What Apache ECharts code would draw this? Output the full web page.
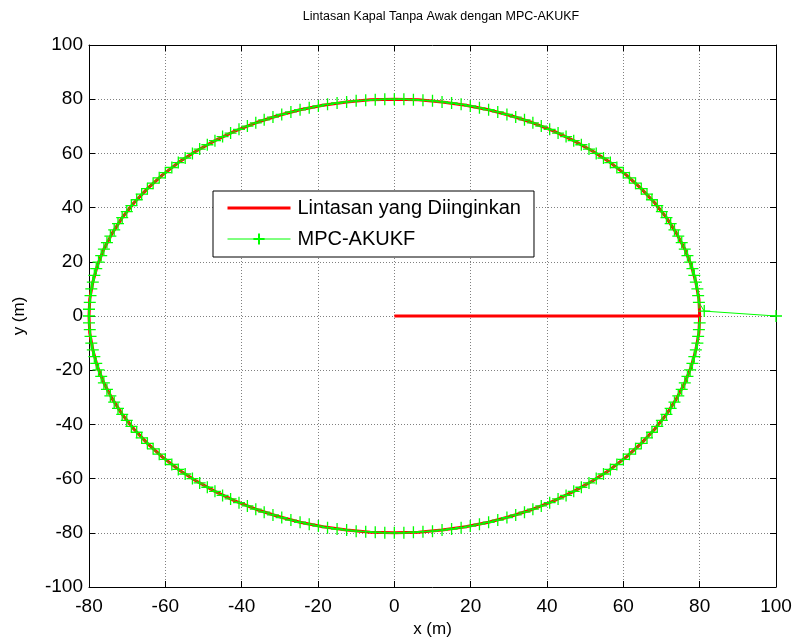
<!DOCTYPE html>
<html>
<head>
<meta charset="utf-8">
<script src="https://cdn.jsdelivr.net/npm/echarts@6/dist/echarts.min.js"></script>
<style>
  html, body { margin: 0; padding: 0; background: #ffffff; }
  #chart { width: 795px; height: 644px; }
</style>
</head>
<body>
<div id="chart"></div>
<script>
// Axis ranges and tick labels
const xTicks = [-80, -60, -40, -20, 0, 20, 40, 60, 80, 100];
const yTicks = [-100, -80, -60, -40, -20, 0, 20, 40, 60, 80, 100];

const seriesNames = ['Lintasan yang Diinginkan', 'MPC-AKUKF'];

// Desired path: straight run out to the circle, then one lap of radius 80 (x, y in metres)
const desiredPath = [
  [0, 0], [80, 0],
  [79.8, 6.3], [79.0, 12.5], [77.8, 18.7], [76.1, 24.7], [73.9, 30.6], [71.3, 36.3], [68.2, 41.8], [64.7, 47.0], [60.8, 52.0], [56.6, 56.6],
  [52.0, 60.8], [47.0, 64.7], [41.8, 68.2], [36.3, 71.3], [30.6, 73.9], [24.7, 76.1], [18.7, 77.8], [12.5, 79.0], [6.3, 79.8], [0, 80],
  [-6.3, 79.8], [-12.5, 79.0], [-18.7, 77.8], [-24.7, 76.1], [-30.6, 73.9], [-36.3, 71.3], [-41.8, 68.2], [-47.0, 64.7], [-52.0, 60.8], [-56.6, 56.6],
  [-60.8, 52.0], [-64.7, 47.0], [-68.2, 41.8], [-71.3, 36.3], [-73.9, 30.6], [-76.1, 24.7], [-77.8, 18.7], [-79.0, 12.5], [-79.8, 6.3], [-80, 0],
  [-79.8, -6.3], [-79.0, -12.5], [-77.8, -18.7], [-76.1, -24.7], [-73.9, -30.6], [-71.3, -36.3], [-68.2, -41.8], [-64.7, -47.0], [-60.8, -52.0], [-56.6, -56.6],
  [-52.0, -60.8], [-47.0, -64.7], [-41.8, -68.2], [-36.3, -71.3], [-30.6, -73.9], [-24.7, -76.1], [-18.7, -77.8], [-12.5, -79.0], [-6.3, -79.8], [0, -80],
  [6.3, -79.8], [12.5, -79.0], [18.7, -77.8], [24.7, -76.1], [30.6, -73.9], [36.3, -71.3], [41.8, -68.2], [47.0, -64.7], [52.0, -60.8], [56.6, -56.6],
  [60.8, -52.0], [64.7, -47.0], [68.2, -41.8], [71.3, -36.3], [73.9, -30.6], [76.1, -24.7], [77.8, -18.7], [79.0, -12.5], [79.8, -6.3], [80, 0]
];

// Vessel track estimated by MPC-AKUKF, starting at (100, 0)
const trackedPath = [
  [100, 0], [81.2, 1.8],
  [79.8, 5.0], [79.6, 7.5], [79.4, 10.0], [79.0, 12.5], [78.6, 15.0], [78.1, 17.5], [77.5, 19.9], [76.8, 22.3], [76.1, 24.7], [75.3, 27.1],
  [74.4, 29.5], [73.4, 31.8], [72.4, 34.1], [71.3, 36.3], [70.1, 38.5], [68.9, 40.7], [67.5, 42.9], [66.2, 45.0], [64.7, 47.0], [63.2, 49.0],
  [61.6, 51.0], [60.0, 52.9], [58.3, 54.8], [56.6, 56.6], [54.8, 58.3], [52.9, 60.0], [51.0, 61.6], [49.0, 63.2], [47.0, 64.7], [45.0, 66.2],
  [42.9, 67.5], [40.7, 68.9], [38.5, 70.1], [36.3, 71.3], [34.1, 72.4], [31.8, 73.4], [29.5, 74.4], [27.1, 75.3], [24.7, 76.1], [22.3, 76.8],
  [19.9, 77.5], [17.5, 78.1], [15.0, 78.6], [12.5, 79.0], [10.0, 79.4], [7.5, 79.6], [5.0, 79.8], [2.5, 80.0], [0, 80.0],
  [-2.5, 80.0], [-5.0, 79.8], [-7.5, 79.6], [-10.0, 79.4], [-12.5, 79.0], [-15.0, 78.6], [-17.5, 78.1], [-19.9, 77.5], [-22.3, 76.8], [-24.7, 76.1],
  [-27.1, 75.3], [-29.5, 74.4], [-31.8, 73.4], [-34.1, 72.4], [-36.3, 71.3], [-38.5, 70.1], [-40.7, 68.9], [-42.9, 67.5], [-45.0, 66.2], [-47.0, 64.7],
  [-49.0, 63.2], [-51.0, 61.6], [-52.9, 60.0], [-54.8, 58.3], [-56.6, 56.6], [-58.3, 54.8], [-60.0, 52.9], [-61.6, 51.0], [-63.2, 49.0], [-64.7, 47.0],
  [-66.2, 45.0], [-67.5, 42.9], [-68.9, 40.7], [-70.1, 38.5], [-71.3, 36.3], [-72.4, 34.1], [-73.4, 31.8], [-74.4, 29.5], [-75.3, 27.1], [-76.1, 24.7],
  [-76.8, 22.3], [-77.5, 19.9], [-78.1, 17.5], [-78.6, 15.0], [-79.0, 12.5], [-79.4, 10.0], [-79.6, 7.5], [-79.8, 5.0], [-80.0, 2.5], [-80.0, 0],
  [-80.0, -2.5], [-79.8, -5.0], [-79.6, -7.5], [-79.4, -10.0], [-79.0, -12.5], [-78.6, -15.0], [-78.1, -17.5], [-77.5, -19.9], [-76.8, -22.3], [-76.1, -24.7],
  [-75.3, -27.1], [-74.4, -29.5], [-73.4, -31.8], [-72.4, -34.1], [-71.3, -36.3], [-70.1, -38.5], [-68.9, -40.7], [-67.5, -42.9], [-66.2, -45.0], [-64.7, -47.0],
  [-63.2, -49.0], [-61.6, -51.0], [-60.0, -52.9], [-58.3, -54.8], [-56.6, -56.6], [-54.8, -58.3], [-52.9, -60.0], [-51.0, -61.6], [-49.0, -63.2], [-47.0, -64.7],
  [-45.0, -66.2], [-42.9, -67.5], [-40.7, -68.9], [-38.5, -70.1], [-36.3, -71.3], [-34.1, -72.4], [-31.8, -73.4], [-29.5, -74.4], [-27.1, -75.3], [-24.7, -76.1],
  [-22.3, -76.8], [-19.9, -77.5], [-17.5, -78.1], [-15.0, -78.6], [-12.5, -79.0], [-10.0, -79.4], [-7.5, -79.6], [-5.0, -79.8], [-2.5, -80.0], [0, -80.0],
  [2.5, -80.0], [5.0, -79.8], [7.5, -79.6], [10.0, -79.4], [12.5, -79.0], [15.0, -78.6], [17.5, -78.1], [19.9, -77.5], [22.3, -76.8], [24.7, -76.1],
  [27.1, -75.3], [29.5, -74.4], [31.8, -73.4], [34.1, -72.4], [36.3, -71.3], [38.5, -70.1], [40.7, -68.9], [42.9, -67.5], [45.0, -66.2], [47.0, -64.7],
  [49.0, -63.2], [51.0, -61.6], [52.9, -60.0], [54.8, -58.3], [56.6, -56.6], [58.3, -54.8], [60.0, -52.9], [61.6, -51.0], [63.2, -49.0], [64.7, -47.0],
  [66.2, -45.0], [67.5, -42.9], [68.9, -40.7], [70.1, -38.5], [71.3, -36.3], [72.4, -34.1], [73.4, -31.8], [74.4, -29.5], [75.3, -27.1], [76.1, -24.7],
  [76.8, -22.3], [77.5, -19.9], [78.1, -17.5], [78.6, -15.0], [79.0, -12.5], [79.4, -10.0], [79.6, -7.5], [79.8, -5.0], [80.0, -2.5]
];

const FONT = 'Arial, "Liberation Sans", Helvetica, sans-serif';
const PLUS = 'path://M5,0L5,10M0,5L10,5';

const xMin = xTicks[0], xMax = xTicks[xTicks.length - 1];
const yMin = yTicks[0], yMax = yTicks[yTicks.length - 1];
const step = 20;

const boxAxis = (extra) => Object.assign({
  type: 'value',
  interval: step,
  axisLine: { show: true, onZero: false, lineStyle: { color: '#000', width: 1 } },
  axisTick: { show: true, inside: true, length: 6, lineStyle: { color: '#000' } },
  splitLine: { show: false },
  axisLabel: { show: false }
}, extra);

const gridLine = { show: true, lineStyle: { color: '#808080', type: [1, 2], width: 1 } };

const chart = echarts.init(document.getElementById('chart'), null, { renderer: 'canvas' });

chart.setOption({
  animation: false,
  backgroundColor: '#ffffff',
  title: {
    text: 'Lintasan Kapal Tanpa Awak dengan MPC-AKUKF',
    left: 436,
    textAlign: 'center',
    top: 5,
    textStyle: { fontFamily: FONT, fontSize: 12.5, fontWeight: 'normal', color: '#000' }
  },
  grid: { left: 89, right: 19, top: 45, bottom: 57, containLabel: false },
  legend: {
    orient: 'vertical',
    left: 213,
    top: 191,
    padding: [7, 13, 8, 13],
    itemWidth: 63,
    itemHeight: 14,
    itemGap: 11,
    backgroundColor: '#ffffff',
    borderColor: '#000000',
    borderWidth: 1,
    borderRadius: 0,
    selectedMode: false,
    textStyle: { fontFamily: FONT, fontSize: 20, color: '#000', padding: [0, 0, 0, 2] },
    data: [
      // plain thick line sample, no marker
      { name: seriesNames[0], lineStyle: { width: 3 }, itemStyle: { color: 'rgba(0,0,0,0)', borderWidth: 0, opacity: 0 } },
      // thin line with a plus marker
      { name: seriesNames[1], lineStyle: { width: 1 } }
    ]
  },
  xAxis: [
    boxAxis({
      min: xMin, max: xMax, position: 'bottom',
      name: 'x (m)', nameLocation: 'middle', nameGap: 27,
      nameTextStyle: { fontFamily: FONT, fontSize: 17, color: '#000' },
      axisLabel: { show: true, margin: 10, fontFamily: FONT, fontSize: 19, color: '#000' },
      splitLine: gridLine
    }),
    boxAxis({ min: xMin, max: xMax, position: 'top' })
  ],
  yAxis: [
    boxAxis({
      min: yMin, max: yMax, position: 'left',
      name: 'y (m)', nameLocation: 'middle', nameGap: 61,
      nameTextStyle: { fontFamily: FONT, fontSize: 17, color: '#000' },
      axisLabel: { show: true, margin: 6, fontFamily: FONT, fontSize: 19, color: '#000' },
      splitLine: gridLine
    }),
    boxAxis({ min: yMin, max: yMax, position: 'right' })
  ],
  series: [
    {
      name: seriesNames[0],
      type: 'line',
      xAxisIndex: 0, yAxisIndex: 0,
      data: desiredPath,
      symbol: 'none',
      smooth: false,
      lineStyle: { color: '#ff0000', width: 3 },
      itemStyle: { color: '#ff0000' },
      z: 2
    },
    {
      name: seriesNames[1],
      type: 'line',
      xAxisIndex: 0, yAxisIndex: 0,
      data: trackedPath,
      symbol: PLUS,
      symbolSize: 12,
      showAllSymbol: true,
      clip: false,
      smooth: false,
      lineStyle: { color: '#00ff00', width: 1 },
      itemStyle: { color: 'rgba(0,0,0,0)', borderColor: '#00ff00', borderWidth: 1.3 },
      emphasis: { disabled: true },
      z: 3
    }
  ]
});
</script>
</body>
</html>
